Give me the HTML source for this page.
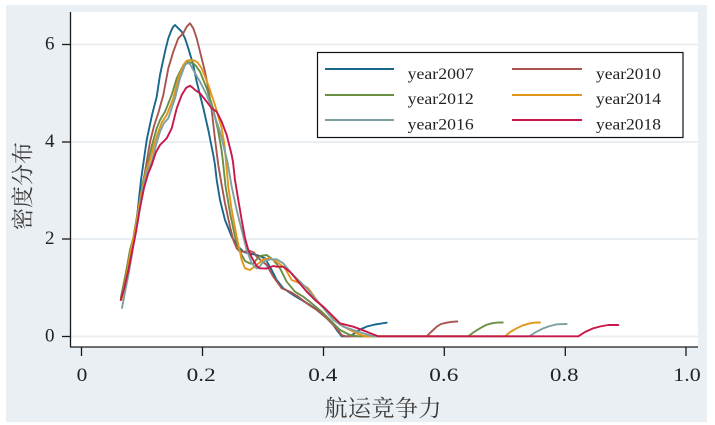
<!DOCTYPE html>
<html>
<head>
<meta charset="utf-8">
<style>
html,body{margin:0;padding:0;background:#fff;}
svg{display:block;}
text{font-family:"Liberation Serif","Noto Serif CJK SC",serif;fill:#222;}
.cjk{font-family:"Liberation Serif","Noto Serif CJK SC","Noto Sans CJK SC",serif;fill:#3a3a3a;}
.s{fill:none;stroke-width:1.9;stroke-linejoin:round;stroke-linecap:round;}
</style>
</head>
<body>
<svg width="715" height="425" viewBox="0 0 715 425" xmlns="http://www.w3.org/2000/svg">
  <rect x="0" y="0" width="715" height="425" fill="#ffffff"/>
  <rect x="6" y="5" width="701" height="417" fill="#eaeff3"/>
  <rect x="70" y="12" width="628" height="335" fill="#ffffff"/>
  <!-- gridlines -->
  <g stroke="#e8eef2" stroke-width="2">
    <line x1="70" y1="44.5" x2="698" y2="44.5"/>
    <line x1="70" y1="142" x2="698" y2="142"/>
    <line x1="70" y1="239" x2="698" y2="239"/>
    <line x1="70" y1="336.5" x2="698" y2="336.5"/>
  </g>
  <!-- axes -->
  <g stroke="#1a1a1a" stroke-width="1.3">
    <line x1="70.5" y1="12" x2="70.5" y2="347.5"/>
    <line x1="70" y1="347" x2="698" y2="347"/>
    <line x1="62" y1="44.5" x2="70" y2="44.5"/>
    <line x1="62" y1="142" x2="70" y2="142"/>
    <line x1="62" y1="239" x2="70" y2="239"/>
    <line x1="62" y1="336.5" x2="70" y2="336.5"/>
    <line x1="81.5" y1="347" x2="81.5" y2="356"/>
    <line x1="202.5" y1="347" x2="202.5" y2="356"/>
    <line x1="323.5" y1="347" x2="323.5" y2="356"/>
    <line x1="444.3" y1="347" x2="444.3" y2="356"/>
    <line x1="565.3" y1="347" x2="565.3" y2="356"/>
    <line x1="686" y1="347" x2="686" y2="356"/>
  </g>
  <!-- y tick labels -->
  <g font-size="19" text-anchor="end">
    <text x="54.5" y="49.5">6</text>
    <text x="54.5" y="147">4</text>
    <text x="54.5" y="244">2</text>
    <text x="54.5" y="341.5">0</text>
  </g>
  <!-- x tick labels -->
  <g font-size="19">
    <text x="76.7" y="381" textLength="10.7" lengthAdjust="spacingAndGlyphs">0</text>
    <text x="186.7" y="381" textLength="29" lengthAdjust="spacingAndGlyphs">0.2</text>
    <text x="308.3" y="381" textLength="29" lengthAdjust="spacingAndGlyphs">0.4</text>
    <text x="429.3" y="381" textLength="29" lengthAdjust="spacingAndGlyphs">0.6</text>
    <text x="550" y="381" textLength="28.5" lengthAdjust="spacingAndGlyphs">0.8</text>
    <text x="673.3" y="381" textLength="27.4" lengthAdjust="spacingAndGlyphs">1.0</text>
  </g>
  <!-- axis titles -->
  <text class="cjk" x="383" y="416" font-size="23" text-anchor="middle" textLength="117" lengthAdjust="spacing">航运竞争力</text>
  <text class="cjk" font-size="22" text-anchor="middle" transform="translate(30.4,186) rotate(-90)">密度分布</text>

  <!-- series -->
  <polyline class="s" stroke="#18678c" points="121,299 126,277 131,252 136.7,220 141,180 146.7,140 152,115 156.7,96.7 160,75 165,51.7 168.3,38.3 171.5,30 173.3,26.7 175,25 178.3,28.3 181.7,31.7 185,38.3 188.3,48.3 193.3,65 196.7,81.7 200,95 203.3,108 208.3,130 213.3,155 215,165 216.7,180 220,200 225,220 231.7,236.7 238.3,246.7 243.3,251.7 248.3,253.3 256.7,255 265,258.3 271.7,270 276.7,280 283.3,288.3 293.3,295 301.7,300 310,305 320,311.7 330,320 336.7,330 341.7,336.3 350,336.3 355,333 360,329.5 367,326.5 375,324.5 386.7,322.7"/>
  <polyline class="s" stroke="#a85550" points="121,300 126,280 131,255 136,228 141,195 146,166 150,142 154,126 158.3,113 163.3,95 168.3,68.3 173.3,51.7 178.3,38.3 183.3,33.3 186.7,26.7 190,23.3 193.3,28.3 196.7,38.3 200,51.7 205,71.7 208.3,88.3 211.7,110 214.5,135 217,155 218.3,165 221.7,185 225,203.3 230,226.7 233.3,240 236.7,248.3 240,251.7 245,251.7 250,251 254,252.5 256.7,256.7 266.7,265 273.3,276.7 281.7,288.3 290,291.7 298.3,296.7 306.7,303.3 316.7,310 326.7,318.3 335,326.7 341.7,335 345,336.3 426.7,336.3 431,332 436.7,326.7 441,324 446.7,322.7 452,321.8 457.3,321.5"/>
  <polyline class="s" stroke="#6a8f45" points="121,297 126,272 130,250 133.3,238 138,210 143,182 148.3,161.7 152,145 156.7,128.3 160,120 165,111.7 171.7,95 176.7,78.3 181.7,68.3 185,63 187,61.7 190,62.5 193.3,63.3 196,66 200,71.7 206.7,88.3 213,108 218,130 221.5,150 223,162 225.5,186 230,213 235,236.7 240,252 245,261 250,263.5 253.3,263.3 257,259 260,256 266.7,255 273.3,260 280,268.3 286.7,281.7 295,291.7 303.3,296.7 311.7,303.3 321.7,311.7 331.7,321.7 340,330 350,335 358,336.3 468.3,336.3 474,332 480,328.3 486,325 491.7,323.3 497,322.6 502.7,322.5"/>
  <polyline class="s" stroke="#e3961a" points="121.5,300 126,278 131,250 136,225 141,195 146,172 150,160 154,145 158.3,131.7 162,122 166.7,115 173.3,98.3 178.3,78.3 183.3,65 186.7,60.7 190,60 195,60.7 198,63 201.7,68.3 208.3,85 215,105 221.7,128.3 224.5,145 226,162 228.3,186.7 231.7,210 236.7,236.7 241.7,260 245,268.3 250,270 256.7,265 263.3,259.3 270,258.3 276.7,261.7 285,268.3 291.7,280 300,283.3 308.3,288.3 316.7,300 326.7,311.7 336.7,321.7 346.7,328.3 356.7,333.3 365,336.3 505,336.3 511,331.5 516.7,328.3 523,325.3 530,323.3 535,322.6 540,322.5"/>
  <polyline class="s" stroke="#7fa0a0" points="122,308 125,292 129,272 133,248 138,218 143,188 147,172 151.7,162 156,145 160,131.7 164,123 168.3,118.3 175,98.3 180,78.3 185,65 187.5,63 190,64 193.3,70 200,81.7 206.7,95 213.3,111.7 220,131.7 224.5,150 227.5,162 231.7,186.7 236.7,210 241.7,230 246.7,250 251.7,263.3 256.7,268.3 258.3,268.3 263.3,261.7 270,259.3 276.7,259.3 283.3,263.3 290,271.7 298.3,280 306.7,288.3 315,298.3 325,310 333.3,320 343.3,326.7 353.3,330 363.3,333.3 373.3,336.3 529.3,336.3 536,332 543.3,328.3 550,326 556.7,324.3 566.7,324"/>
  <polyline class="s" stroke="#c8184a" points="120.7,300 124,289 128,272 132,252 136,232 140,208 144,188 148,174 151.7,165 156,152 160,145 166.7,138.3 171.7,128.3 176.7,108.3 181.7,95 186,88 190,85.7 193,88 195,90 200,93.3 206.7,101.7 211.7,108.3 216.7,111.7 221.7,121.7 226.7,135 231.7,155 233,162 235,180 238.3,200 241.7,220 245,238 248.3,250 252,258 256.7,266 260,268.3 266.7,268.5 273.3,266 276.7,266.7 283.3,266.7 290,271.7 298.3,281.7 306.7,291.7 315,300 323.3,306.7 331.7,315 340,323.3 353.3,326.7 366.7,331.7 378,336.3 578.3,336.3 585,332 593.3,328.3 600,326.5 608.3,325 618.3,325"/>

  <!-- legend -->
  <rect x="317.5" y="52.5" width="365.5" height="85" fill="#ffffff" stroke="#111" stroke-width="1.2"/>
  <g stroke-width="2">
    <line x1="325" y1="69" x2="394" y2="69" stroke="#18678c"/>
    <line x1="325" y1="95" x2="394" y2="95" stroke="#6a8f45"/>
    <line x1="325" y1="120" x2="394" y2="120" stroke="#7fa0a0"/>
    <line x1="512" y1="69" x2="582" y2="69" stroke="#a85550"/>
    <line x1="512" y1="95" x2="582" y2="95" stroke="#e3961a"/>
    <line x1="512" y1="120" x2="582" y2="120" stroke="#c8184a"/>
  </g>
  <g font-size="16">
    <text x="407.7" y="79" textLength="66" lengthAdjust="spacingAndGlyphs">year2007</text>
    <text x="407.7" y="104" textLength="66" lengthAdjust="spacingAndGlyphs">year2012</text>
    <text x="407.7" y="129.3" textLength="66" lengthAdjust="spacingAndGlyphs">year2016</text>
    <text x="596" y="79" textLength="65" lengthAdjust="spacingAndGlyphs">year2010</text>
    <text x="596" y="104" textLength="65" lengthAdjust="spacingAndGlyphs">year2014</text>
    <text x="596" y="129.3" textLength="65" lengthAdjust="spacingAndGlyphs">year2018</text>
  </g>
</svg>
</body>
</html>
